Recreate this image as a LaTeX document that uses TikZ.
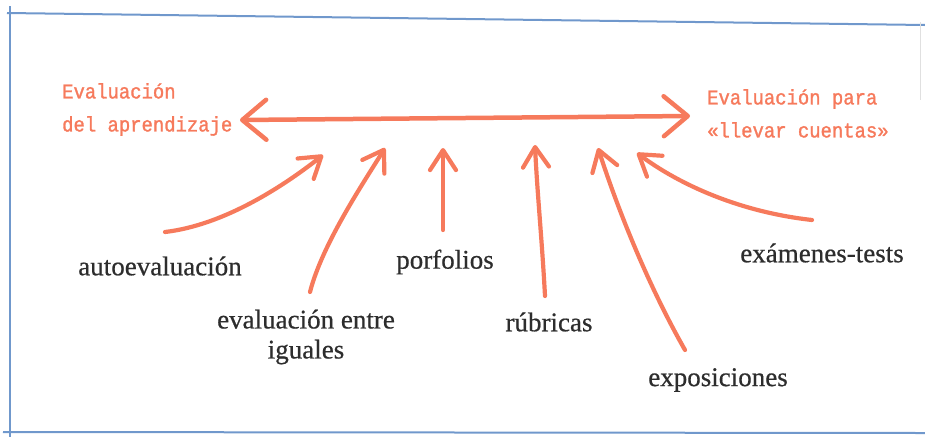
\documentclass[tikz,border=0pt]{standalone}
\usepackage{fontspec}
\setmainfont{Liberation Serif}[FakeBold=0.6]
\newfontfamily\orfont{Liberation Mono}[FakeBold=1.3,FakeStretch=0.9]
\usetikzlibrary{arrows.meta}
\definecolor{orng}{RGB}{246,122,92}
\definecolor{frameblue}{RGB}{112,152,204}
\definecolor{txt}{RGB}{45,45,45}
\tikzset{
  frameline/.style={draw=frameblue, line width=2pt},
  bigarrow/.style={draw=orng, line width=4.5pt, line cap=round, line join=round,
    {Straight Barb[length=24pt,width=40pt,line cap=round,line join=round]}-{Straight Barb[length=24pt,width=40pt,line cap=round,line join=round]}},
  smallarrow/.style={draw=orng, line width=4.2pt, line cap=round, line join=round,
    -{Straight Barb[length=20pt,width=26pt,line cap=round,line join=round]}},
  orlabel/.style={text=orng, font=\orfont\fontsize{21}{33}\selectfont, align=left, inner sep=0pt, anchor=north west},
  blabel/.style={text=txt, font=\fontsize{27}{30}\selectfont, align=center, inner sep=0pt}
}
\begin{document}
\begin{tikzpicture}[x=1pt,y=-1pt]
\useasboundingbox (0,0) rectangle (925,437);
% frame
\draw[frameline] (7,13) -- (925,25);
\draw[frameline] (10,6) -- (10,437);
\draw[frameline] (3,432) -- (925,433);
\draw[draw=black!12, line width=0.8pt] (920,22) -- (920,100);
% top labels
\node[orlabel] (aprend) at (62,83) {Evaluación\\del aprendizaje};
\node[orlabel] (cuentas) at (707,89) {Evaluación para\\«llevar cuentas»};
\coordinate (L) at (240,120);
\coordinate (R) at (690,116);
\draw[bigarrow] (L) -- (R);
% bottom labels
\node[blabel] (auto) at (160,266) {autoevaluación};
\node[blabel] (igual) at (306,337) {evaluación entre\\iguales};
\node[blabel] (porf) at (445,262) {porfolios};
\node[blabel] (rubr) at (549,322) {rúbricas};
\node[blabel] (expo) at (718,380) {exposiciones};
\node[blabel] (exam) at (822,253) {exámenes-tests};
% arrow ends
\coordinate (t1) at (165,232); \coordinate (h1) at (323,155);
\coordinate (t2) at (310,292); \coordinate (h2) at (385,148);
\coordinate (t3) at (443,230); \coordinate (h3) at (443,148);
\coordinate (t4) at (545,296); \coordinate (h4) at (535,145);
\coordinate (t5) at (685,350); \coordinate (h5) at (598,148);
\coordinate (t6) at (812,220); \coordinate (h6) at (637,153);
\draw[smallarrow] (t1) .. controls (225,225) and (285,185) .. (h1);
\draw[smallarrow] (t2) .. controls (322,245) and (362,185) .. (h2);
\draw[smallarrow] (t3) -- (h3);
\draw[smallarrow] (t4) .. controls (542,240) and (537,190) .. (h4);
\draw[smallarrow] (t5) .. controls (648,285) and (618,210) .. (h5);
\draw[smallarrow] (t6) .. controls (740,212) and (680,185) .. (h6);
\end{tikzpicture}
\end{document}
